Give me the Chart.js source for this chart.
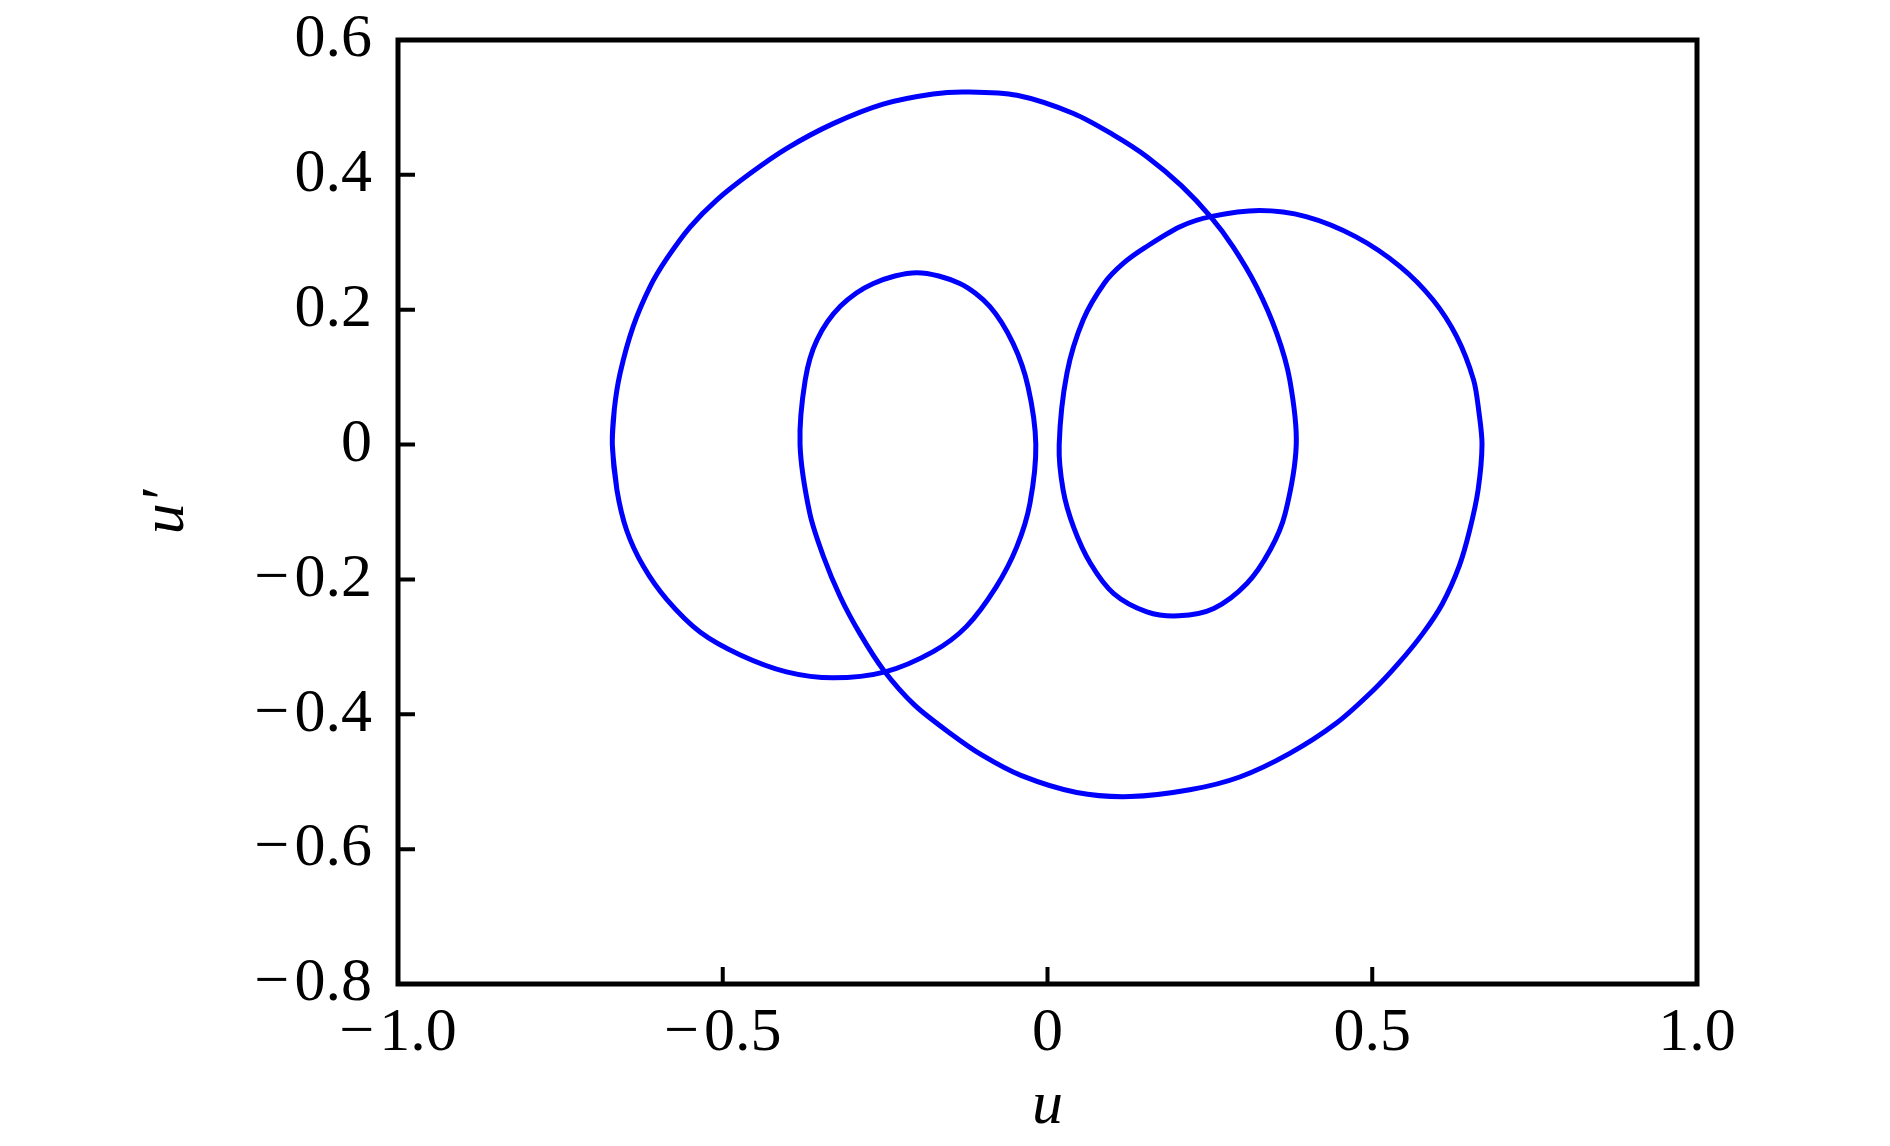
<!DOCTYPE html>
<html>
<head>
<meta charset="utf-8">
<script src="https://cdn.jsdelivr.net/npm/chart.js@4.4.1/dist/chart.umd.min.js"></script>
<style>
  html, body { margin: 0; padding: 0; background: #fff; }
  canvas { display: block; }
</style>
</head>
<body>
<canvas id="phaseChart" width="1890" height="1146" style="width:1890px;height:1146px"></canvas>
<script>
// phase portrait u vs u'
// (the first and last points overlap the start so the loop closes smoothly)
const uValues = [
  -0.663,
  -0.670, -0.667, -0.658, -0.638, -0.612, -0.586, -0.550, -0.509, -0.458, -0.402, -0.330,
  -0.253, -0.176, -0.125, -0.047, 0.040, 0.102, 0.153, 0.206, 0.251, 0.286,
  0.322, 0.353, 0.373, 0.383,
  0.366, 0.343, 0.307, 0.256, 0.202, 0.153, 0.102, 0.066, 0.040, 0.024, 0.018,
  0.030, 0.055, 0.088, 0.117, 0.150, 0.204, 0.251, 0.326, 0.398, 0.475, 0.543,
  0.594, 0.630, 0.656, 0.664, 0.669,
  0.663, 0.650, 0.634, 0.608, 0.578, 0.540, 0.502, 0.445, 0.373, 0.296,
  0.219, 0.127, 0.045, -0.040, -0.100, -0.150, -0.205, -0.252, -0.289, -0.319,
  -0.345, -0.366, -0.381,
  -0.373, -0.355, -0.319, -0.268, -0.201, -0.135, -0.089, -0.053, -0.030, -0.018,
  -0.027, -0.047, -0.079, -0.125, -0.176, -0.250, -0.330, -0.402, -0.473, -0.535,
  -0.586, -0.622, -0.648, -0.663, -0.670,
  -0.667
];
const duValues = [
  -0.067,
  0.000, 0.052, 0.106, 0.175, 0.234, 0.276, 0.323, 0.363, 0.402, 0.439, 0.476,
  0.505, 0.520, 0.523, 0.518, 0.491, 0.459, 0.427, 0.384, 0.338, 0.293,
  0.234, 0.165, 0.096, 0.000,
  -0.102, -0.156, -0.206, -0.243, -0.254, -0.248, -0.221, -0.176, -0.122, -0.067, 0.000,
  0.106, 0.185, 0.240, 0.269, 0.292, 0.323, 0.338, 0.347, 0.338, 0.308, 0.264,
  0.214, 0.160, 0.096, 0.050, 0.000,
  -0.067, -0.127, -0.180, -0.236, -0.280, -0.325, -0.364, -0.413, -0.458, -0.493,
  -0.512, -0.522, -0.516, -0.491, -0.461, -0.428, -0.386, -0.335, -0.280, -0.226,
  -0.166, -0.102, 0.000,
  0.096, 0.155, 0.205, 0.239, 0.255, 0.239, 0.205, 0.150, 0.086, 0.000,
  -0.087, -0.151, -0.211, -0.270, -0.307, -0.337, -0.346, -0.337, -0.312, -0.278,
  -0.230, -0.181, -0.127, -0.067, 0.000,
  0.052
];

const xTickValues = [-1, -0.5, 0, 0.5, 1];
const xTickLabels = ["\u2212\u200A1.0", "\u2212\u200A0.5", "0", "0.5", "1.0"];
const yTickValues = [-0.8, -0.6, -0.4, -0.2, 0, 0.2, 0.4, 0.6];
const yTickLabels = ["\u2212\u200A0.8", "\u2212\u200A0.6", "\u2212\u200A0.4", "\u2212\u200A0.2", "0", "0.2", "0.4", "0.6"];

const points = uValues.map((u, i) => ({ x: u, y: duValues[i] }));

const fontFamily = "'Liberation Serif', 'DejaVu Serif', serif";

// box around the plot plus inward ticks on left and bottom
const framePlugin = {
  id: "frame",
  afterDraw(chart) {
    const { ctx, chartArea: a, scales: { x, y } } = chart;
    ctx.save();
    ctx.strokeStyle = "#000";
    ctx.lineWidth = 4;
    ctx.beginPath();
    x.ticks.forEach((t) => {
      const px = x.getPixelForValue(t.value);
      ctx.moveTo(px, a.bottom);
      ctx.lineTo(px, a.bottom - 17);
    });
    y.ticks.forEach((t) => {
      const py = y.getPixelForValue(t.value);
      ctx.moveTo(a.left, py);
      ctx.lineTo(a.left + 17, py);
    });
    ctx.stroke();
    ctx.lineWidth = 5;
    ctx.strokeRect(a.left, a.top, a.right - a.left, a.bottom - a.top);
    ctx.restore();
  },
};

new Chart(document.getElementById("phaseChart"), {
  type: "scatter",
  data: {
    datasets: [
      {
        data: points,
        showLine: true,
        borderColor: "#0000ff",
        borderWidth: 5,
        pointRadius: 0,
        tension: 0.3,
        fill: false,
      },
    ],
  },
  options: {
    responsive: false,
    animation: false,
    devicePixelRatio: 1,
    layout: { padding: { left: 0, right: 193, top: 40, bottom: 0 } },
    plugins: {
      legend: { display: false },
      tooltip: { enabled: false },
    },
    scales: {
      x: {
        type: "linear",
        min: -1,
        max: 1,
        afterBuildTicks: (scale) => {
          scale.ticks = xTickValues.map((v) => ({ value: v }));
        },
        afterFit: (scale) => {
          scale.height = 162;
          scale.paddingLeft = 0;
          scale.paddingRight = 0;
        },
        ticks: {
          callback: (value, index) => xTickLabels[index],
          font: { family: fontFamily, size: 62 },
          color: "#000",
          padding: 13,
          maxRotation: 0,
          autoSkip: false,
        },
        grid: { display: false, drawTicks: false },
        border: { display: false },
        title: {
          display: true,
          text: "u",
          color: "#000",
          font: { family: fontFamily, size: 62, style: "italic" },
          padding: { top: 0, bottom: 2 },
        },
      },
      y: {
        type: "linear",
        min: -0.8,
        max: 0.6,
        afterBuildTicks: (scale) => {
          scale.ticks = yTickValues.map((v) => ({ value: v }));
        },
        afterFit: (scale) => {
          scale.width = 398;
          scale.paddingTop = 0;
          scale.paddingBottom = 0;
        },
        ticks: {
          callback: (value, index) => yTickLabels[index],
          font: { family: fontFamily, size: 62 },
          color: "#000",
          padding: 26,
          autoSkip: false,
        },
        grid: { display: false, drawTicks: false },
        border: { display: false },
        title: {
          display: true,
          text: "u\u2032",
          color: "#000",
          font: { family: fontFamily, size: 62, style: "italic" },
          padding: { top: 130, bottom: 0 },
        },
      },
    },
  },
  plugins: [framePlugin],
});
</script>
</body>
</html>
